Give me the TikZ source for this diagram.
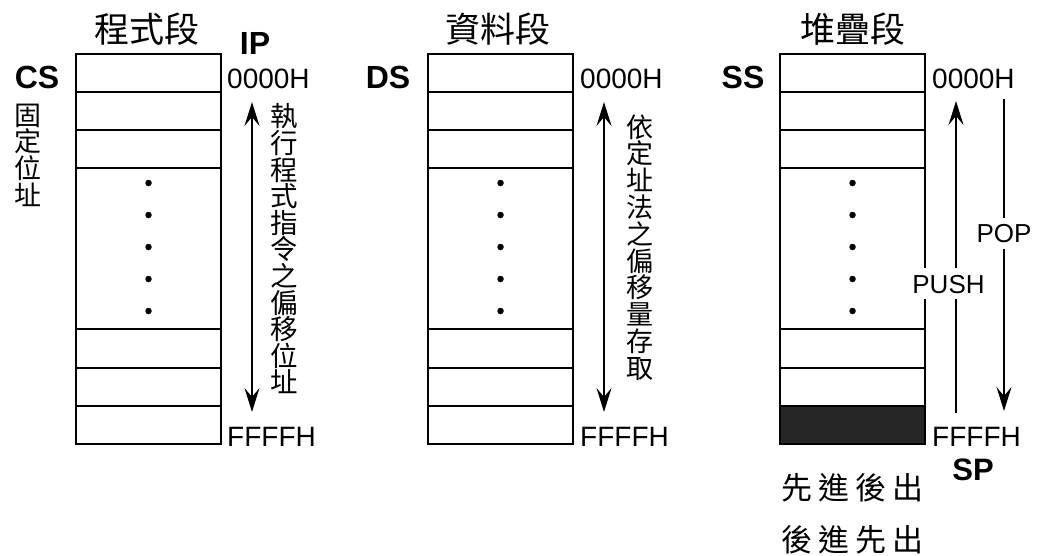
\documentclass[tikz,border=0pt]{standalone}
\usepackage{fontspec}
\setmainfont{Liberation Sans}
\newfontfamily\cjk{Noto Sans CJK TC}
\usetikzlibrary{arrows.meta}
\tikzset{
  cell/.style={draw, line width=2.5pt, minimum width=145pt, inner sep=0pt, outer sep=0pt},
  darkcell/.style={cell, fill=black!85},
  lbl/.style={inner sep=0pt, font=\fontsize{28}{28}\selectfont},
  seg/.style={inner sep=0pt, font=\bfseries\fontsize{32}{32}\selectfont},
  ttl/.style={inner sep=0pt, font=\cjk\fontsize{35}{35}\selectfont},
  vtxt/.style={inner sep=0pt, align=center},
  opl/.style={inner sep=0pt, font=\fontsize{26}{26}\selectfont, fill=white, text height=19pt, text depth=0pt, inner ysep=6pt, inner xsep=1pt},
  tip/.tip={Stealth[length=24pt, width=15pt, inset=9pt]},
  arr/.style={line width=2pt, -tip},
  darr/.style={line width=2pt, tip-tip},
  dotn/.style={circle, fill=black, inner sep=0pt, minimum size=6.5pt},
}
\begin{document}
\begin{tikzpicture}[x=1pt, y=-1pt]
\useasboundingbox (0,0) rectangle (1048,555);

% memory cells
\foreach \col/\cx in {a/148.5, b/500.5, c/852.5} {
  \foreach \n/\yc/\h in {1/73/38, 2/111/38, 3/149/38, 4/248.5/161, 5/348.5/39, 6/387/38} {
    \node[cell, minimum height=\h pt] (\col\n) at (\cx,\yc) {};
  }
  \foreach \k/\yd in {1/183, 2/215, 3/247, 4/279, 5/311} {
    \node[dotn] (\col d\k) at (\cx,\yd) {};
  }
}
\node[cell, minimum height=38pt] (a7) at (148.5,425) {};
\node[cell, minimum height=38pt] (b7) at (500.5,425) {};
\node[darkcell, minimum height=38pt] (c7) at (852.5,425) {};

% titles
\node[ttl] (t1) at (147,29) {程式段};
\node[ttl] (t2) at (498,29) {資料段};
\node[ttl] (t3) at (853,29) {堆疊段};

% segment registers
\node[seg] (cs) at (37,77) {CS};
\node[seg] (ds) at (388,77) {DS};
\node[seg] (ss) at (743,77) {SS};
\node[seg] (ip) at (255,43) {IP};
\node[seg, font=\bfseries\fontsize{31}{31}\selectfont] (sp) at (973,470) {SP};

% addresses
\node[lbl, anchor=west] (a0) at (227,79) {0000H};
\node[lbl, anchor=west] (b0) at (580,79) {0000H};
\node[lbl, anchor=west] (c0) at (932,79) {0000H};
\node[lbl, anchor=west] (af) at (227,437) {FFFFH};
\node[lbl, anchor=west] (bf) at (580,437) {FFFFH};
\node[lbl, anchor=west] (cf) at (932,437) {FFFFH};

% vertical texts
\node[vtxt, font=\cjk\fontsize{27}{26.7}\selectfont] (fix) at (28,155)
  {固\\定\\位\\址};
\node[vtxt, font=\cjk\fontsize{27.5}{26.6}\selectfont] (ipt) at (284,249)
  {執\\行\\程\\式\\指\\令\\之\\偏\\移\\位\\址};
\node[vtxt, font=\cjk\fontsize{27}{26.8}\selectfont] (dst) at (640,247.5)
  {依\\定\\址\\法\\之\\偏\\移\\量\\存\\取};

% arrows
\coordinate (ipT) at (252,102);
\coordinate (ipB) at (252,412);
\draw[darr] (ipT) -- (ipB);
\coordinate (dsT) at (604,102);
\coordinate (dsB) at (604,412);
\draw[darr] (dsT) -- (dsB);
\coordinate (puB) at (956,413);
\coordinate (puT) at (956,101);
\draw[arr] (puB) -- (puT);
\coordinate (poT) at (1004,99);
\coordinate (poB) at (1004,411);
\draw[arr] (poT) -- (poB);
\node[opl] (push) at (948.5,283.5) {PUSH};
\node[opl] (pop) at (1004,233) {POP};

% stack rule
\node[inner sep=0pt, font=\cjk\fontsize{31}{31}\selectfont] (fifo1) at (852.5,488)
  {先\hspace{5.7pt}進\hspace{5.7pt}後\hspace{5.7pt}出};
\node[inner sep=0pt, font=\cjk\fontsize{31}{31}\selectfont] (fifo2) at (852.5,540)
  {後\hspace{5.7pt}進\hspace{5.7pt}先\hspace{5.7pt}出};
\end{tikzpicture}
\end{document}
